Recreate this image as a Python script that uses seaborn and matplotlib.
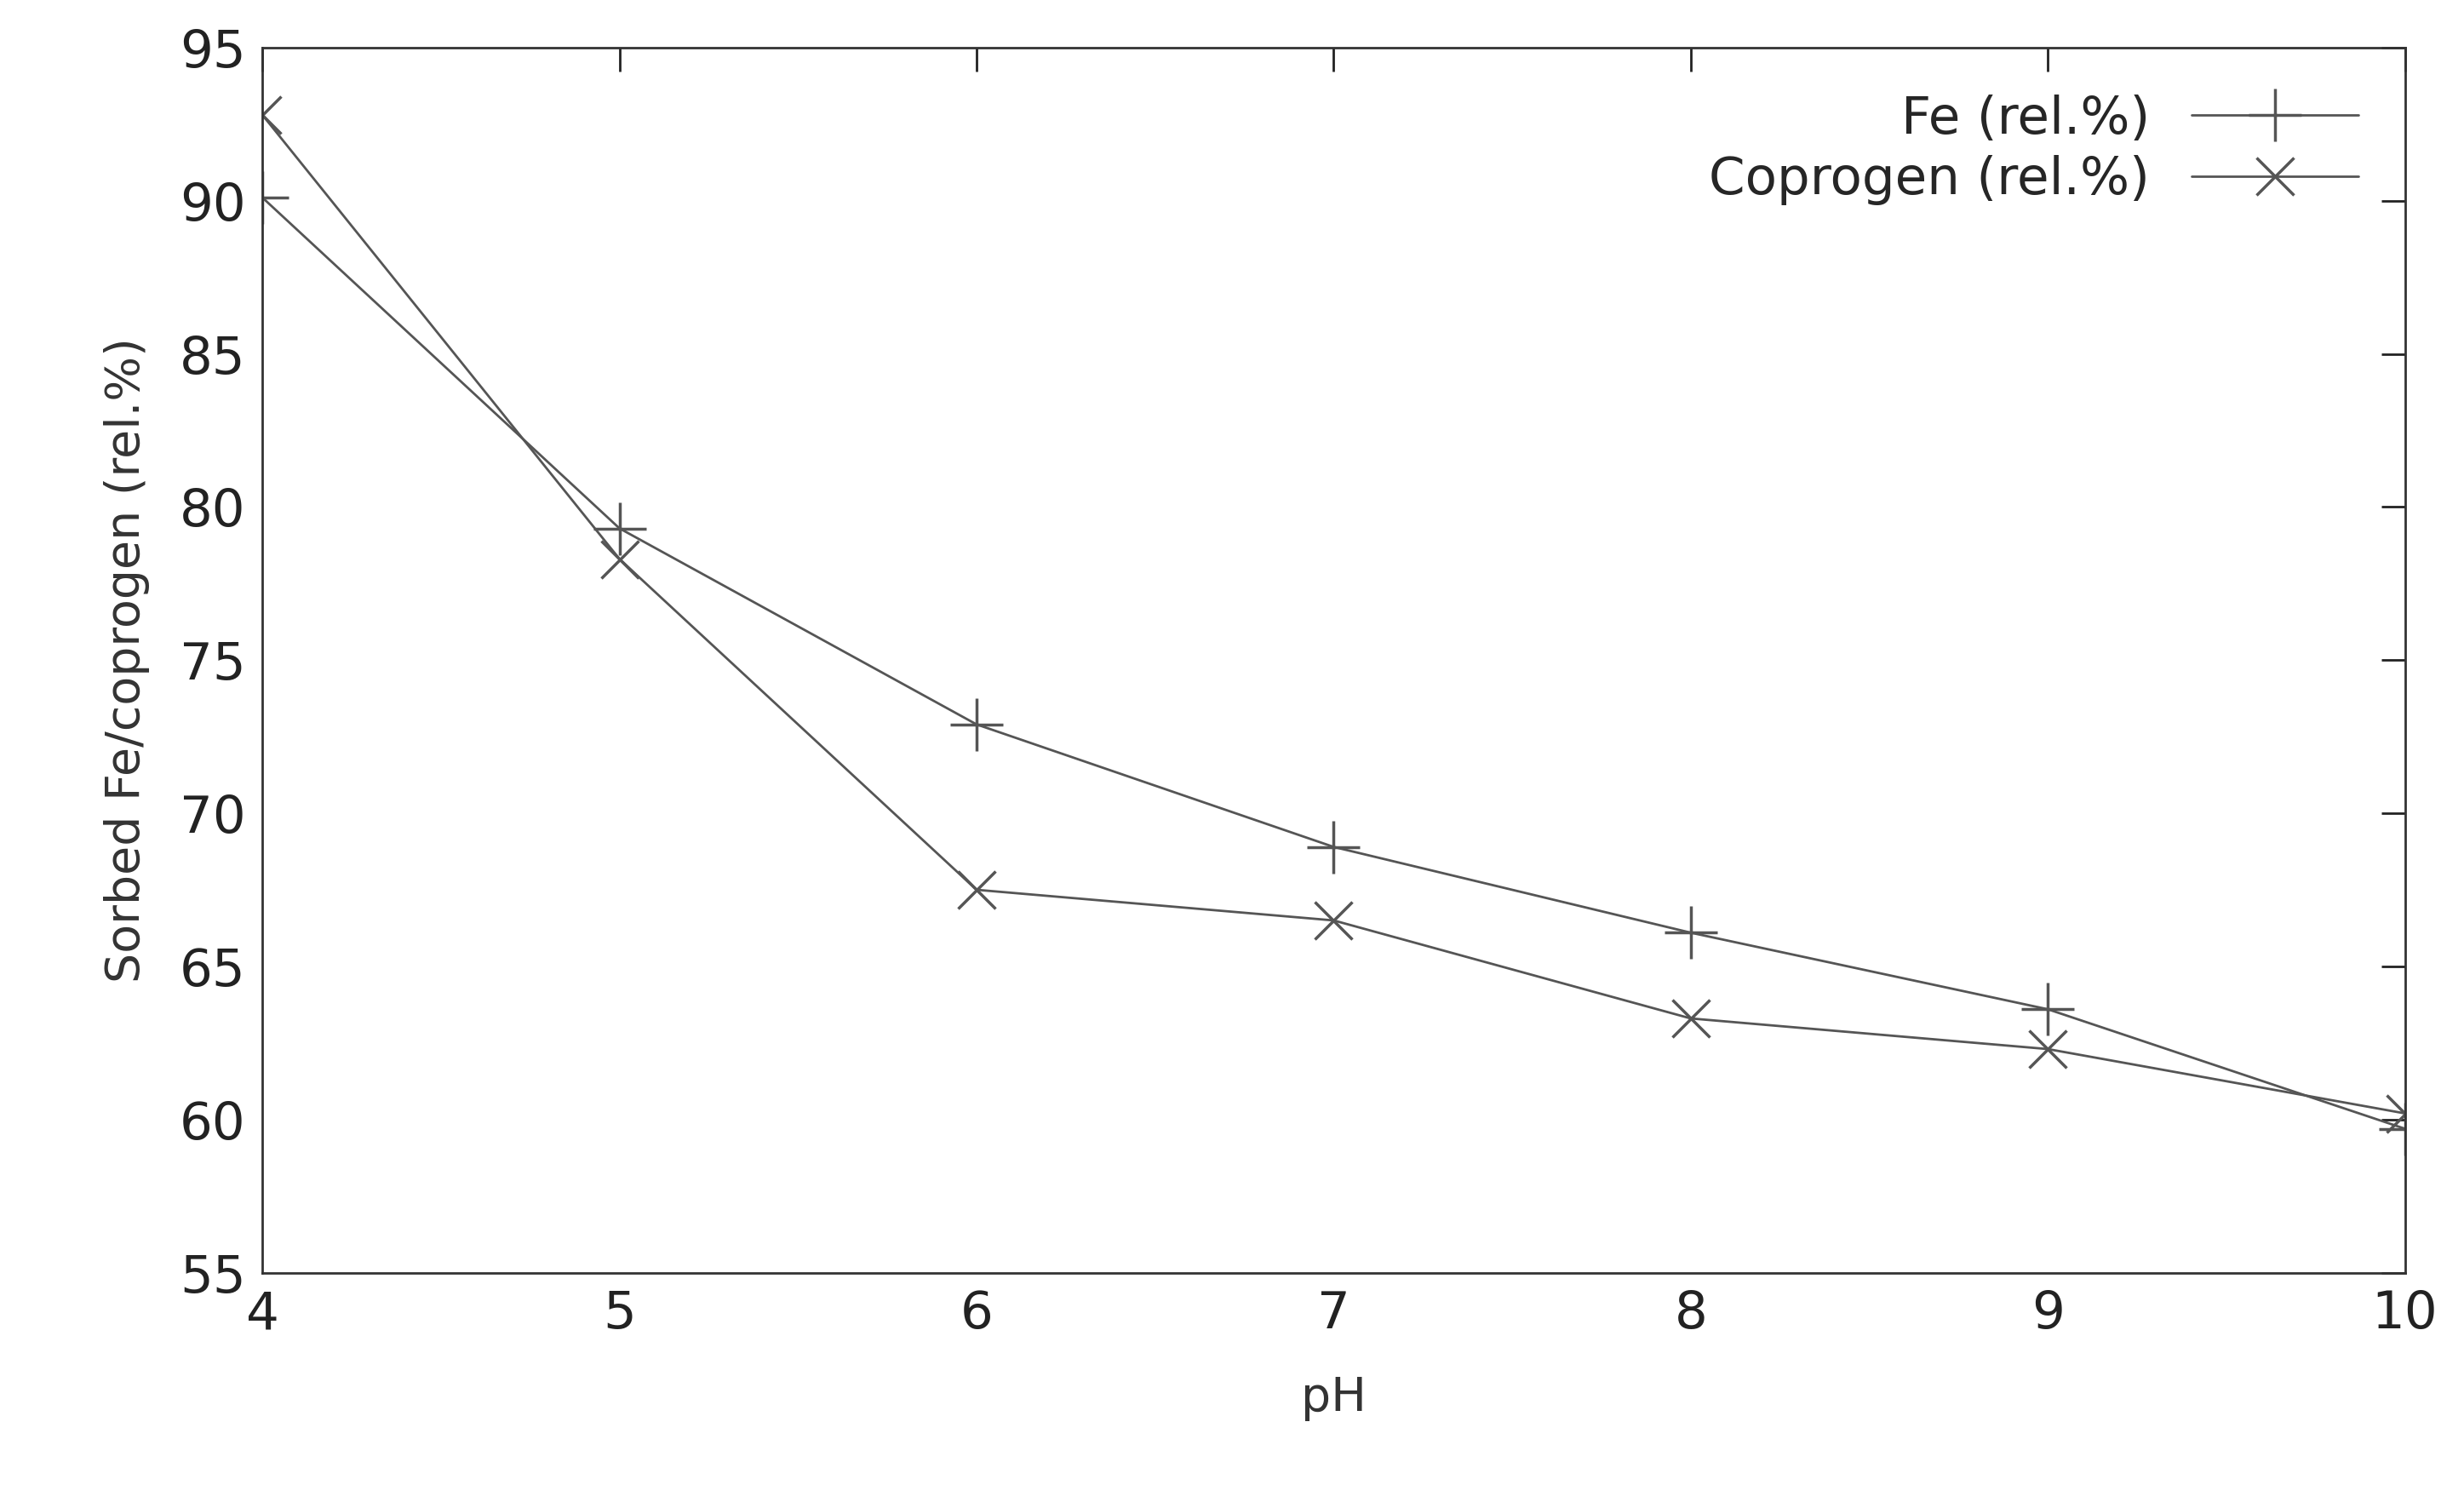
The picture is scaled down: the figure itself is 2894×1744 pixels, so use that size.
import matplotlib
matplotlib.use("Agg")
import matplotlib.pyplot as plt
import seaborn as sns
import pandas as pd

ph = [4, 5, 6, 7, 8, 9, 10]
fe = [90.1, 79.3, 72.9, 68.9, 66.1, 63.6, 59.7]
coprogen = [92.8, 78.3, 67.5, 66.5, 63.3, 62.3, 60.2]

sns.set_style("white")
plt.rcParams['font.family'] = ['DejaVu Sans']
fig = plt.figure(figsize=(28.94, 17.44), dpi=100)
ax = fig.add_axes([0.1065, 0.143, 0.8695, 0.825])
c = "#555555"
sns.lineplot(x=ph, y=fe, ax=ax, color=c, lw=2, marker="+", markersize=45, mew=2.5,
             markeredgecolor=c, label="Fe (rel.%)")
sns.lineplot(x=ph, y=coprogen, ax=ax, color=c, lw=2, marker="x", markersize=32, mew=2.5,
             markeredgecolor=c, label="Coprogen (rel.%)")
ax.set_xlim(4, 10)
ax.set_ylim(55, 95)
ax.set_xticks(ph)
ax.set_yticks(range(55, 96, 5))
ax.tick_params(direction="in", length=20, width=2, labelsize=44, top=True, right=True, pad=14, colors="#222222")
for s in ax.spines.values():
    s.set_linewidth(2)
    s.set_color("#333333")
ax.set_xlabel("pH", fontsize=40, labelpad=30, color="#333333")
ax.set_ylabel("Sorbed Fe/coprogen (rel.%)", fontsize=40, labelpad=25, color="#333333")
leg = ax.legend(loc="upper right", fontsize=44, frameon=False, markerfirst=False, handlelength=3.2, labelspacing=0.2)
fig.savefig("out.png", dpi=100)
